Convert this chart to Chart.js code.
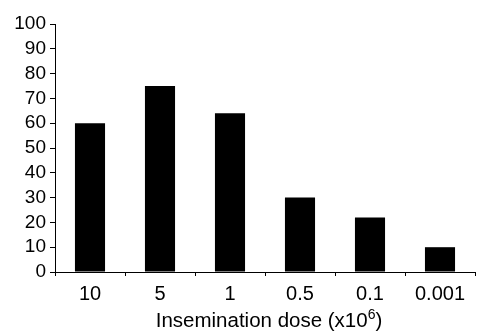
<!DOCTYPE html>
<html>
<head>
<meta charset="utf-8">
<script src="https://cdn.jsdelivr.net/npm/chart.js@4"></script>
<style>
  html, body { margin: 0; padding: 0; background: #fff; }
  #wrap { width: 477px; height: 334px; }
</style>
</head>
<body>
<div id="wrap"><canvas id="myChart"></canvas></div>
<script>
// dose categories (x10^6) and the bar heights
const doses = ["10", "5", "1", "0.5", "0.1", "0.001"];
const values = [60, 75, 64, 30, 22, 10];
const yTicks = [0, 10, 20, 30, 40, 50, 60, 70, 80, 90, 100];
const xTitle = "Insemination dose (x10";
const xTitleSup = "6";

const fontFam = "'Liberation Sans', Arial, sans-serif";

// axis title with a real superscript, drawn under the tick labels
const titlePlugin = {
  id: "doseTitle",
  afterDraw(chart) {
    const ctx = chart.ctx;
    const area = chart.chartArea;
    ctx.save();
    ctx.fillStyle = "#000";
    ctx.textBaseline = "alphabetic";
    ctx.font = "20.5px " + fontFam;
    const w1 = ctx.measureText(xTitle).width;
    ctx.font = "14px " + fontFam;
    const w2 = ctx.measureText(xTitleSup).width;
    ctx.font = "20.5px " + fontFam;
    const w3 = ctx.measureText(")").width;
    const cx = (area.left + area.right) / 2 + 4;
    let x = cx - (w1 + w2 + w3) / 2;
    const base = 327;
    ctx.fillText(xTitle, x, base);
    x += w1;
    ctx.font = "14px " + fontFam;
    ctx.fillText(xTitleSup, x, base - 8);
    x += w2;
    ctx.font = "20.5px " + fontFam;
    ctx.fillText(")", x, base);
    ctx.restore();
  },
};

function initChart(target) {
  const data = {
    labels: doses,
    datasets: [
      {
        data: values,
        backgroundColor: "#000",
        borderWidth: 0,
        barPercentage: 0.86,
        categoryPercentage: 0.5,
      },
    ],
  };

  const config = {
    type: "bar",
    data: data,
    plugins: [titlePlugin],
    options: {
      responsive: true,
      maintainAspectRatio: false,
      animation: false,
      layout: { padding: { top: 24, right: 2, left: 0, bottom: 0 } },
      plugins: { legend: { display: false }, tooltip: { enabled: false } },
      scales: {
        x: {
          afterFit: (axis) => { axis.height = 62; },
          grid: { drawOnChartArea: false, color: "#000", tickLength: 4, offset: true },
          border: { display: true, color: "#000", width: 1 },
          ticks: { color: "#000", font: { family: fontFam, size: 20 }, padding: 6 },
        },
        y: {
          min: 0,
          max: 100,
          afterBuildTicks: (axis) => { axis.ticks = yTicks.map((v) => ({ value: v })); },
          afterFit: (axis) => { axis.width = 55; },
          grid: { drawOnChartArea: false, color: "#000", tickLength: 5 },
          border: { display: true, color: "#000", width: 1 },
          ticks: { color: "#000", font: { family: fontFam, size: 19 }, padding: 4, autoSkip: false },
        },
      },
    },
  };

  return new Chart(target, config);
}

document.addEventListener("DOMContentLoaded", () => initChart(document.querySelector("#myChart")));
</script>
</body>
</html>
